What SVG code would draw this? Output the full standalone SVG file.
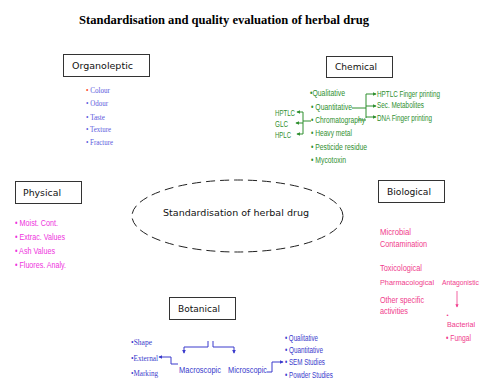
<svg xmlns="http://www.w3.org/2000/svg" width="480" height="379" viewBox="0 0 480 379">
<defs>
<style>
.title{font-family:"Liberation Serif","Times New Roman",serif;font-weight:bold;font-size:12px;fill:#000}
.box{fill:#fff;stroke:#333;stroke-width:1}
.lbl{font-family:"DejaVu Sans",Verdana,sans-serif;font-size:9.5px;fill:#111}
.org{font-family:"Liberation Serif",serif;font-size:9px;fill:#5b5bdd}
.chem{font-family:"Liberation Sans",Arial,sans-serif;font-size:8.5px;fill:#2f8f2f}
.phys{font-family:"Liberation Sans",Arial,sans-serif;font-size:9px;fill:#ee33dd}
.bio{font-family:"Liberation Sans",Arial,sans-serif;font-size:9.5px;fill:#f03c8c}
.bot{font-family:"Liberation Sans",Arial,sans-serif;font-size:9.5px;fill:#3a3acc}
.botl{font-family:"Liberation Sans",Arial,sans-serif;font-size:8.5px;fill:#3a3acc}
.bots{font-family:"Liberation Serif",serif;font-size:8.5px;fill:#3a3acc}
.gline{fill:none;stroke:#2f8f2f;stroke-width:1}
.bline{fill:none;stroke:#3a3acc;stroke-width:1}
.pline{fill:none;stroke:#f03c8c;stroke-width:0.8}
</style>
<marker id="ag" viewBox="0 0 6 6" refX="5" refY="3" markerWidth="4" markerHeight="4" orient="auto"><path d="M0,0 L6,3 L0,6 z" fill="#2f8f2f"/></marker>
<marker id="ab" viewBox="0 0 6 6" refX="5" refY="3" markerWidth="4" markerHeight="4" orient="auto"><path d="M0,0 L6,3 L0,6 z" fill="#3a3acc"/></marker>
<marker id="ap" viewBox="0 0 6 6" refX="5" refY="3" markerWidth="4" markerHeight="4" orient="auto"><path d="M0,0 L6,3 L0,6 z" fill="#f03c8c"/></marker>
</defs>
<rect width="480" height="379" fill="#fff"/>
<text class="title" x="79" y="24" textLength="290" lengthAdjust="spacingAndGlyphs">Standardisation and quality evaluation of herbal drug</text>

<g id="center">
<ellipse cx="237.5" cy="216" rx="105.5" ry="36" fill="none" stroke="#222" stroke-width="1" stroke-dasharray="9,5"/>
<text class="lbl" x="163" y="216" style="font-size:9px" textLength="146" lengthAdjust="spacingAndGlyphs">Standardisation of  herbal drug</text>
</g>

<g id="organoleptic">
<rect class="box" x="63.5" y="54.5" width="86" height="22"/>
<text class="lbl" x="72" y="69" textLength="61" lengthAdjust="spacingAndGlyphs">Organoleptic</text>
<text class="org" x="86" y="93" textLength="24" lengthAdjust="spacingAndGlyphs"><tspan fill="#ff4422">•</tspan> Colour</text>
<text class="org" x="86" y="106" textLength="22" lengthAdjust="spacingAndGlyphs">• Odour</text>
<text class="org" x="86" y="119.5" textLength="19" lengthAdjust="spacingAndGlyphs">• Taste</text>
<text class="org" x="86" y="132" textLength="25" lengthAdjust="spacingAndGlyphs">• Texture</text>
<text class="org" x="86" y="145" textLength="27" lengthAdjust="spacingAndGlyphs">• Fracture</text>
</g>

<g id="chemical">
<rect class="box" x="326.5" y="56.5" width="66" height="21"/>
<text class="lbl" x="335" y="70" textLength="42" lengthAdjust="spacingAndGlyphs">Chemical</text>
<text class="chem" x="310" y="96" textLength="35" lengthAdjust="spacingAndGlyphs">•Qualitative</text>
<text class="chem" x="311" y="110" textLength="41" lengthAdjust="spacingAndGlyphs">• Quantitative</text>
<text class="chem" x="311" y="122.5" textLength="54" lengthAdjust="spacingAndGlyphs">• Chromatography</text>
<text class="chem" x="311" y="135.5" textLength="41" lengthAdjust="spacingAndGlyphs">• Heavy metal</text>
<text class="chem" x="311" y="149.5" textLength="56" lengthAdjust="spacingAndGlyphs">• Pesticide residue</text>
<text class="chem" x="311" y="162.5" textLength="35" lengthAdjust="spacingAndGlyphs">• Mycotoxin</text>
<text class="chem" x="377" y="97" textLength="63" lengthAdjust="spacingAndGlyphs">HPTLC Finger printing</text>
<text class="chem" x="377" y="107.5" textLength="47" lengthAdjust="spacingAndGlyphs">Sec. Metabolites</text>
<text class="chem" x="377" y="120.5" textLength="55" lengthAdjust="spacingAndGlyphs">DNA Finger printing</text>
<text class="chem" x="275" y="115.5" textLength="20" lengthAdjust="spacingAndGlyphs">HPTLC</text>
<text class="chem" x="275" y="126.5" textLength="13" lengthAdjust="spacingAndGlyphs">GLC</text>
<text class="chem" x="275" y="137.5" textLength="16" lengthAdjust="spacingAndGlyphs">HPLC</text>
</g>

<g id="physical">
<rect class="box" x="15.5" y="181.5" width="66" height="22"/>
<text class="lbl" x="23" y="196" textLength="38" lengthAdjust="spacingAndGlyphs">Physical</text>
<text class="phys" x="15" y="226" textLength="43" lengthAdjust="spacingAndGlyphs">• Moist. Cont.</text>
<text class="phys" x="15" y="240" textLength="50" lengthAdjust="spacingAndGlyphs">• Extrac. Values</text>
<text class="phys" x="15" y="254" textLength="40" lengthAdjust="spacingAndGlyphs">• Ash Values</text>
<text class="phys" x="15" y="268" textLength="51" lengthAdjust="spacingAndGlyphs">• Fluores. Analy.</text>
</g>

<g id="biological">
<rect class="box" x="378.5" y="180.5" width="66" height="22"/>
<text class="lbl" x="387" y="195" textLength="44" lengthAdjust="spacingAndGlyphs">Biological</text>
<text class="bio" x="380" y="234.5" textLength="31" lengthAdjust="spacingAndGlyphs">Microbial</text>
<text class="bio" x="380" y="246.5" textLength="47" lengthAdjust="spacingAndGlyphs">Contamination</text>
<text class="bio" x="380" y="270.5" textLength="42" lengthAdjust="spacingAndGlyphs">Toxicological</text>
<text class="bio" x="380" y="285" style="font-size:8px" textLength="54" lengthAdjust="spacingAndGlyphs">Pharmacological</text>
<text class="bio" x="380" y="302.5" textLength="44" lengthAdjust="spacingAndGlyphs">Other specific</text>
<text class="bio" x="380" y="313.5" textLength="28" lengthAdjust="spacingAndGlyphs">activities</text>
<text class="bio" x="442" y="285" style="font-size:6.8px" textLength="37" lengthAdjust="spacingAndGlyphs">Antagonistic</text>
<text class="bio" x="446.5" y="317" style="font-size:6px">•</text>
<text class="bio" x="447" y="327" style="font-size:7px" textLength="28" lengthAdjust="spacingAndGlyphs">Bacterial</text>
<text class="bio" x="446" y="341" textLength="25" lengthAdjust="spacingAndGlyphs">• Fungal</text>
</g>

<g id="botanical">
<rect class="box" x="169.5" y="297.5" width="66" height="22"/>
<text class="lbl" x="178" y="312" textLength="42" lengthAdjust="spacingAndGlyphs">Botanical</text>
<text class="bots" x="131" y="344.5" textLength="21" lengthAdjust="spacingAndGlyphs">•Shape</text>
<text class="bots" x="131" y="360.5" textLength="27" lengthAdjust="spacingAndGlyphs">•External</text>
<text class="bots" x="131" y="375.5" textLength="27" lengthAdjust="spacingAndGlyphs">•Marking</text>
<text class="bot" x="179" y="372.5" textLength="42" lengthAdjust="spacingAndGlyphs">Macroscopic</text>
<text class="bot" x="228" y="372.5" textLength="39" lengthAdjust="spacingAndGlyphs">Microscopic</text>
<text class="botl" x="285" y="341" textLength="33" lengthAdjust="spacingAndGlyphs">• Qualitative</text>
<text class="botl" x="285" y="353" textLength="38" lengthAdjust="spacingAndGlyphs">• Quantitative</text>
<text class="botl" x="285" y="365" textLength="40" lengthAdjust="spacingAndGlyphs">• SEM Studies</text>
<text class="botl" x="285" y="378" textLength="48" lengthAdjust="spacingAndGlyphs">• Powder Studies</text>
</g>

<g id="connectors">
<path class="gline" d="M352,108 L366,108"/>
<path class="gline" d="M358,120 L366,120"/>
<path class="gline" d="M366,94 L366,118"/>
<path class="gline" d="M366,94 L376,94" marker-end="url(#ag)"/>
<path class="gline" d="M366,106 L376,106" marker-end="url(#ag)"/>
<path class="gline" d="M366,117 L376,117" marker-end="url(#ag)"/>
<path class="gline" d="M311,121 L303,121"/>
<path class="gline" d="M303,112 L303,134"/>
<path class="gline" d="M303,112 L297,112" marker-end="url(#ag)"/>
<path class="gline" d="M303,123 L296,123" marker-end="url(#ag)"/>
<path class="gline" d="M303,134 L297,134" marker-end="url(#ag)"/>
<path class="bline" d="M208,341 L208,347 L184,347 L184,353" marker-end="url(#ab)"/>
<path class="bline" d="M213,341 L213,347 L234,347 L234,353" marker-end="url(#ab)"/>
<path class="bline" d="M178,364 L171,364 L171,357 L159,357" marker-end="url(#ab)"/>
<path class="bline" d="M267,372 L272,372 L272,362 L283,362" marker-end="url(#ab)"/>
<path class="pline" d="M457,291 L457,307" marker-end="url(#ap)"/>
</g>
</svg>
